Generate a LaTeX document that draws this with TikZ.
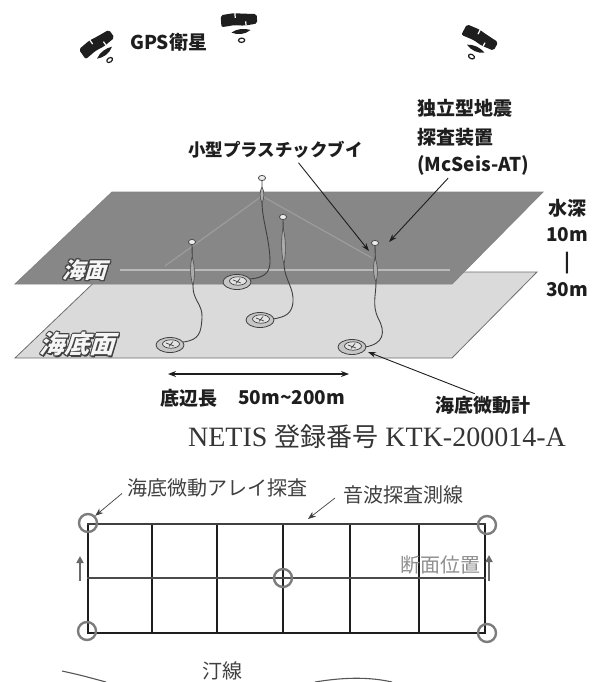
\documentclass[tikz,border=0pt]{standalone}
\usepackage{fontspec}
\setmainfont{Liberation Serif}
\newfontfamily\jp{Noto Sans CJK JP}
\usetikzlibrary{arrows.meta}
\definecolor{seatop}{HTML}{878787}
\definecolor{seabed}{HTML}{DADADA}
\definecolor{ink}{HTML}{1E1E1E}
\definecolor{ringgray}{HTML}{7C7C7C}
\definecolor{softgray}{HTML}{8E8E8E}

\begin{document}
\begin{tikzpicture}[x=1pt,y=-1pt,
  toplbl/.style={font=\jp\bfseries\fontsize{19}{19}\selectfont, text=ink, inner sep=0pt},
  planlbl/.style={font=\jp\fontsize{20}{20}\selectfont, text=ink!85, inner sep=0pt},
  lead/.style={draw=ink, line width=0.9pt, -{Stealth[length=8pt,width=5.5pt]}},
  thinlead/.style={draw=ink!85, line width=0.7pt, -{Stealth[length=8pt,width=6pt]}},
  span/.style={draw=ink, line width=1.3pt, {Stealth[length=8pt,width=6pt]}-{Stealth[length=8pt,width=6pt]}},
  gridline/.style={draw=ink, line width=1.7pt},
  station/.style={circle, draw=ringgray, line width=2.4pt, minimum size=18pt, inner sep=0pt},
  uparrow/.style={draw=ringgray!85!black, line width=2pt, -{Triangle[length=7pt,width=7pt]}},
  rope/.style={draw=ink!85, line width=0.9pt},
  sinker/.style={draw=ink!80, line width=0.6pt, fill=gray!65},
  hollowedge/.style={font=\jp\bfseries\fontsize{#1}{#1}\selectfont, text=ink!85, inner sep=0pt, xslant=0.3},
  hollowface/.style={font=\jp\bfseries\fontsize{#1}{#1}\selectfont, text=white!92!gray, inner sep=0pt, xslant=0.3},
  sat/.pic={
    \begin{scope}[scale=1.2]
    \fill[ink, rounded corners=2pt] (-15,-5) -- (-4,-6) -- (4,-5) -- (15,-4) -- (15,4) -- (4,5) -- (-4,4) -- (-15,5) -- cycle;
    \fill[white] (-3.5,-6) rectangle (-2.5,-2);
    \fill[white] (5,5) rectangle (6,1.5);
    \fill[ink] (-7,10) .. controls (-2,7) and (4,7) .. (9,9) .. controls (4,12.5) and (-2,12.5) .. (-7,10) -- cycle;
    \draw[ink, line width=1.2pt] (1,17) ellipse (2.6 and 1.8);
    \end{scope}
  },
  float/.pic={
    \draw[ink!80, line width=0.8pt, fill=white!85!gray] (0,0) ellipse (3.6 and 2.6);
  },
  seismo/.pic={
    \draw[ink!85, line width=0.8pt, fill=gray!45] (0,0) ellipse (14 and 7.5);
    \draw[ink!85, line width=0.7pt, fill=gray!22] (1,-1) ellipse (8.5 and 4.2);
    \draw[ink!85, line width=0.7pt] (-4,-2) -- (4,1) (-1,1.5) -- (3,-3.5);
  }
]
\useasboundingbox (0,0) rectangle (600,682);

% ---------- satellites ----------
\pic[rotate=35] at (97,44) {sat};
\pic[rotate=4] at (239,20) {sat};
\pic[rotate=-28] at (480,38) {sat};
\node[toplbl, anchor=west] (gps) at (130,42) {GPS衛星};

% ---------- sea bed and sea surface ----------
\fill[seabed] (15,358) -- (452,358) -- (537,272) -- (105,272) -- cycle;
\draw[ink!65, line width=0.8pt] (15,358) -- (452,358) -- (537,272) -- (105,272) -- cycle;
\fill[seatop] (15,284) -- (452,284) -- (543,192) -- (112,192) -- cycle;
\draw[ink!55, line width=0.8pt] (15,284) -- (452,284) -- (543,192) -- (112,192) -- cycle;
% sea bed edge seen through the water surface
\draw[gray!55, line width=1.2pt] (120,270) -- (450,270);
% faint outline of the array triangle on the surface
\draw[white, opacity=0.18, line width=1.2pt] (262,196) -- (165,266) (262,196) -- (372,258);

% outlined labels on the two planes: dark copies around a light face
\foreach \dx/\dy [count=\k] in {-1/0,1/0,0/-1,0/1,-0.8/-0.8,0.8/0.8,-0.8/0.8,0.8/-0.8,1.5/-1.5}
  \node[hollowedge=22, xshift=\dx pt, yshift=\dy pt] (seaedge\k) at (87,270) {海面};
\node[hollowface=22] (sealbl) at (87,270) {海面};
\foreach \dx/\dy [count=\k] in {-1/0,1/0,0/-1,0/1,-0.8/-0.8,0.8/0.8,-0.8/0.8,0.8/-0.8,1.6/-1.6}
  \node[hollowedge=25, xshift=\dx pt, yshift=\dy pt] (bededge\k) at (80,344) {海底面};
\node[hollowface=25] (bedlbl) at (80,344) {海底面};

% ---------- buoys, ropes and sea-floor sensors ----------
% station 1
\draw[rope] (192,245) -- (193,287) .. controls (193,300) and (203,305) .. (202,318) .. controls (201,332) and (200,340) .. (183,342);
\draw[sinker] (192,257) .. controls (195,265) and (195,278) .. (193,285) .. controls (190,278) and (190,265) .. (192,257);
\pic at (192,242) {float};
\pic at (170,345) {seismo};
% station 2
\draw[rope] (262,181) -- (262,202) .. controls (262,220) and (270,240) .. (270,262) .. controls (270,274) and (262,278) .. (250,279);
\draw[sinker] (262,187) .. controls (264.5,191) and (264.5,198) .. (262,203) .. controls (259.5,198) and (259.5,191) .. (262,187);
\pic at (262,178) {float};
\pic at (237,282) {seismo};
% station 3
\draw[rope] (283,220) -- (284,265) .. controls (285,280) and (294,288) .. (293,302) .. controls (292,314) and (285,317) .. (273,319);
\draw[sinker] (283,228) .. controls (286,238) and (286,255) .. (284,264) .. controls (281,255) and (281,238) .. (283,228);
\pic at (283,217) {float};
\pic at (260,320) {seismo};
% station 4 (McSeis-AT)
\draw[rope] (375,246) -- (376,282) .. controls (376,295) and (372,305) .. (378,318) .. controls (386,332) and (384,344) .. (365,347);
\draw[sinker] (375,258) .. controls (378,265) and (378,275) .. (376,282) .. controls (373,275) and (373,265) .. (375,258);
\pic at (375,243) {float};
\pic at (352,347) {seismo};

% ---------- labels of the survey scene ----------
\node[toplbl, anchor=west, font=\jp\bfseries\fontsize{17.5}{17.5}\selectfont] (buoylbl) at (188,150) {小型プラスチックブイ};
\node[toplbl, anchor=west] (seis1) at (417,108) {独立型地震};
\node[toplbl, anchor=west] (seis2) at (417,137) {探査装置};
\node[toplbl, anchor=west] (seis3) at (417,165) {(McSeis-AT)};
\coordinate (buoytip) at (369,251);
\coordinate (seistip) at (389,242);
\draw[lead] ([xshift=23pt,yshift=-4pt]buoylbl.south) -- (buoytip);
\draw[lead] ([xshift=-25pt,yshift=-3pt]seis3.south) -- (seistip);

\node[toplbl] (depth1) at (567,208) {水深};
\node[toplbl] (depth2) at (567,235) {10m};
\node[toplbl] (depth3) at (567,263) {|};
\node[toplbl] (depth4) at (567,290) {30m};

\coordinate (spanL) at (168,374);
\coordinate (spanR) at (349,374);
\draw[span] (spanL) -- (spanR);
\node[toplbl, anchor=west] (baselbl) at (160,398) {底辺長};
\node[toplbl, anchor=west] (baseval) at (238,398) {50m\textasciitilde200m};

\node[toplbl, anchor=west] (obslbl) at (435,405) {海底微動計};
\coordinate (obstip) at (368,352);
\draw[lead] ([xshift=-8pt,yshift=2pt]obslbl.north) -- (obstip);

% ---------- registration number ----------
\node[inner sep=0pt, text=ink!90, font=\fontsize{28}{28}\selectfont] (netis) at (377,437) {NETIS {\jp\fontsize{26}{26}\selectfont 登録番号} KTK-200014-A};

% ---------- survey plan ----------
\foreach \x in {88,152,217,283,350,419,485}
  \draw[gridline] (\x,524) -- (\x,633);
\draw[gridline, draw=ink!85] (87,524) -- (486,524);
\draw[gridline, draw=ink!80] (87,578) -- (486,578);
\draw[gridline] (87,633) -- (486,633);

\node[station] (c1) at (88,523) {};
\node[station] (c2) at (487,525) {};
\node[station] (c3) at (283,578) {};
\node[station] (c4) at (87,631) {};
\node[station] (c5) at (487,633) {};

\coordinate (upL0) at (80,581);
\coordinate (upL1) at (80,556);
\coordinate (upR0) at (489,581);
\coordinate (upR1) at (489,555);
\draw[uparrow] (upL0) -- (upL1);
\draw[uparrow] (upR0) -- (upR1);
\node[planlbl, anchor=east, text=softgray] (sectlbl) at (481,565) {断面位置};

\node[planlbl, anchor=west] (arraylbl) at (127,488) {海底微動アレイ探査};
\draw[thinlead] ([xshift=-5pt,yshift=4pt]arraylbl.south west) -- (c1.north east);
\node[planlbl, anchor=west] (sonarlbl) at (343,495) {音波探査測線};
\coordinate (sonartip) at (308,519);
\draw[thinlead] ([xshift=-8pt,yshift=-3pt]sonarlbl.west) -- (sonartip);

% shoreline
\node[planlbl] (shorelbl) at (222,671) {汀線};
\draw[ink!75, line width=1.1pt] (62,671) .. controls (80,675) .. (106,682);
\draw[ink!75, line width=1.1pt] (315,682) .. controls (345,677) and (370,677) .. (392,682);
\end{tikzpicture}
\end{document}
